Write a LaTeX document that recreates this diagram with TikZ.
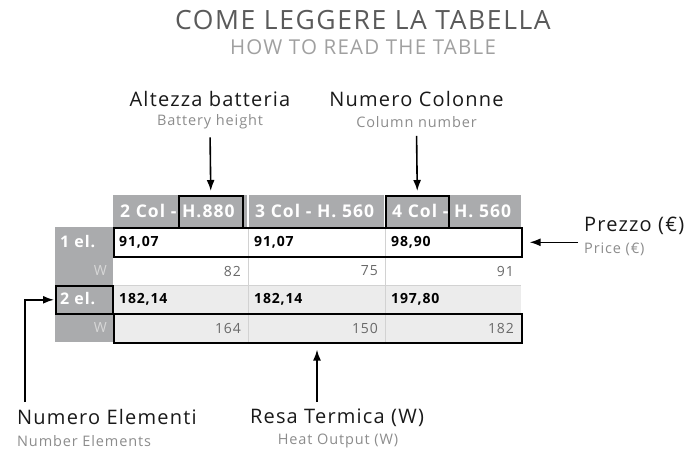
\documentclass[tikz,border=0pt]{standalone}
\usepackage{fontspec}
\setmainfont{Open Sans}[LetterSpace=6]
\usetikzlibrary{arrows.meta,positioning,calc}
\definecolor{hdrgray}{RGB}{170,171,173}
\definecolor{rowgray}{RGB}{236,236,236}
\definecolor{rulegray}{RGB}{210,210,210}
\definecolor{titlegray}{RGB}{90,90,90}
\definecolor{subgray}{RGB}{160,160,160}
\definecolor{capgray}{RGB}{140,140,140}
\definecolor{wattgray}{RGB}{105,105,105}
\definecolor{wlabgray}{RGB}{215,215,215}
\tikzset{
  >={Latex[length=11pt,width=8pt]},
  arrow/.style={->,line width=1.6pt},
  title/.style={font=\fontsize{26.5}{30}\selectfont,text=titlegray},
  subtitle/.style={font=\fontsize{20.5}{23}\selectfont,text=subgray},
  callout/.style={font=\fontsize{20}{23}\selectfont,text=black!90,inner sep=1pt},
  callsub/.style={font=\fontsize{14.5}{17}\selectfont,text=capgray,inner sep=1pt},
  head/.style={font=\fontsize{17.5}{20}\selectfont\bfseries,text=white,anchor=west,inner sep=0pt},
  price/.style={font=\fontsize{14}{16}\selectfont\bfseries,text=black,anchor=west,inner sep=0pt},
  watt/.style={font=\fontsize{14}{16}\selectfont,text=wattgray,anchor=east,inner sep=0pt},
  rowlab/.style={font=\fontsize{16}{18}\selectfont\bfseries,text=white,anchor=west,inner sep=0pt},
  wlab/.style={font=\fontsize{14}{16}\selectfont,text=wlabgray,anchor=east,inner sep=0pt},
  hl/.style={draw=black,line width=1.6pt,inner sep=0pt,anchor=north west},
}
\begin{document}
\begin{tikzpicture}[x=1pt,y=-1pt]
  \useasboundingbox (0,0) rectangle (694,455);
  % title
  \node[title] (tit) at (363,20) {COME LEGGERE LA TABELLA};
  \node[subtitle] (subtit) at (363,47) {HOW TO READ THE TABLE};
  % table background
  \fill[hdrgray] (113,195) rectangle (521,227);
  \fill[hdrgray] (55,227) rectangle (113,342);
  \fill[rowgray] (113,285) rectangle (521,342);
  \draw[rulegray] (113,285) -- (521,285);
  \foreach \x in {248,385}{
    \draw[white,line width=1.5pt] (\x,195) -- (\x,227);
    \draw[rulegray] (\x,227) -- (\x,342);
  }
  % columns
  \foreach \x/\xr/\h/\pa/\wa/\pb/\wb [count=\i] in {
      113/248/{2 Col - H.880}/{91,07}/82/{182,14}/164,
      248/385/{3 Col - H. 560}/{91,07}/75/{182,14}/150,
      385/521/{4 Col - H. 560}/{98,90}/91/{197,80}/182}{
    \node[head] (hd\i) at (\x+7,211) {\h};
    \node[price] (pa\i) at (\x+6,242) {\pa};
    \node[watt] (wa\i) at (\xr-7,271) {\wa};
    \node[price] (pb\i) at (\x+6,299) {\pb};
    \node[watt] (wb\i) at (\xr-7,328) {\wb};
  }
  % row labels
  \node[rowlab] (r1) at (60,242) {1 el.};
  \node[wlab] (w1) at (107,271) {W};
  \node[rowlab] (r2) at (60,299) {2 el.};
  \node[wlab] (w2) at (107,328) {W};
  % highlight frames
  \node[hl,minimum width=64pt,minimum height=32pt] (hbox) at (178,195) {};
  \node[hl,minimum width=63pt,minimum height=32pt] (cbox) at (385,195) {};
  \node[hl,minimum width=408pt,minimum height=29pt] (pbox) at (113,227) {};
  \node[hl,minimum width=57pt,minimum height=28pt] (ebox) at (55,285) {};
  \node[hl,minimum width=408pt,minimum height=29pt] (wbox) at (113,313) {};
  % callouts
  \node[callout] (batt) at (210,99) {Altezza batteria};
  \node[callsub] (battsub) at (210,122) {Battery height};
  \node[callout] (cols) at (416.5,99) {Numero Colonne};
  \node[callsub] (colssub) at (416.5,122) {Column number};
  \node[callout,anchor=west] (prezzo) at (583,226) {Prezzo (€)};
  \node[callsub,anchor=west] (prezzosub) at (583,249) {Price (€)};
  \node[callout,anchor=west] (elem) at (16,417) {Numero Elementi};
  \node[callsub,anchor=west] (elemsub) at (16,441) {Number Elements};
  \node[callout] (resa) at (337,418) {Resa Termica (W)};
  \node[callsub] (resasub) at (338,441) {Heat Output (W)};
  % arrows
  \coordinate (elemfrom) at (25,402);
  \coordinate (resafrom) at (317,402);
  \draw[arrow,shorten <=7pt,shorten >=4pt] (battsub.south) -- (hbox.north);
  \draw[arrow,shorten <=7pt,shorten >=4pt] (colssub.south) -- (cbox.north);
  \draw[arrow,shorten <=5pt,shorten >=7pt] (pbox.east -| prezzo.west) -- (pbox.east);
  \draw[arrow,shorten >=1pt] (elemfrom) |- (ebox.west);
  \draw[arrow,shorten >=6pt] (resafrom) -- (resafrom |- wbox.south);
\end{tikzpicture}
\end{document}
